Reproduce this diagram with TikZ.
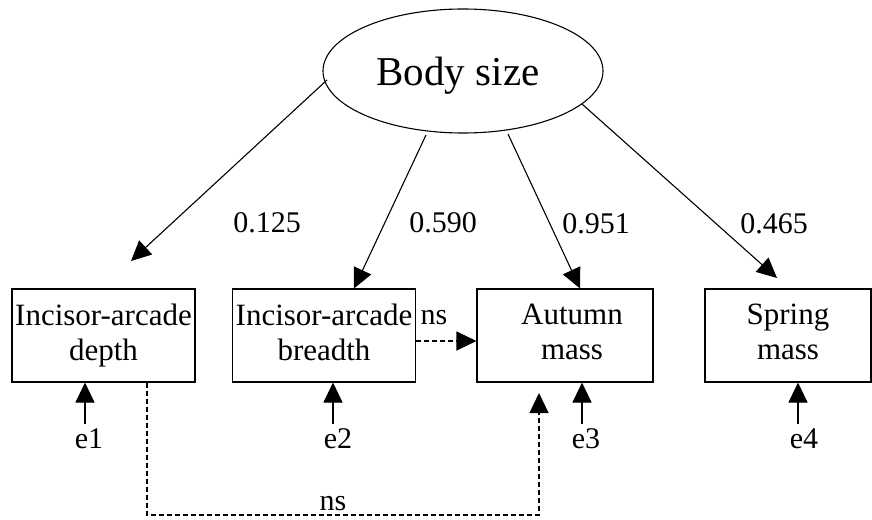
\documentclass[tikz,border=0pt]{standalone}
\usepackage{fontspec}
\setmainfont{Liberation Serif}
\usetikzlibrary{arrows.meta,shapes.geometric}
\begin{document}
\begin{tikzpicture}[x=1pt,y=-1pt,
  box/.style={draw, line width=1.1pt, rectangle, minimum height=93pt, inner sep=0pt, align=center, font=\fontsize{31}{35}\selectfont},
  boxtext/.style={inner sep=0pt, align=center, font=\fontsize{31}{35}\selectfont},
  lab/.style={inner sep=0pt, anchor=base, font=\fontsize{30}{34}\selectfont},
  arr/.style={line width=1.1pt, -{Triangle[length=20pt,width=19pt]}},
  darr/.style={arr, dash pattern=on 5pt off 3pt},
]
\useasboundingbox (0,0) rectangle (872,519);
% latent variable
\node[ellipse, draw, line width=1.1pt, minimum width=280pt, minimum height=124pt, inner sep=0pt] (bs) at (463,71) {};
\node[anchor=base, inner sep=0pt, font=\fontsize{41}{45}\selectfont] (bst) at (458,85) {Body size};
% observed variables
\node[box, minimum width=183pt] (b1) at (103.5,335.5) {Incisor-arcade\\depth};
\node[box, minimum width=183pt] (b2) at (324,335.5) {Incisor-arcade\\breadth\vphantom{p}};
\node[box, minimum width=176pt] (b3) at (565,335.5) {};
\node[boxtext] (b3t) at (572,335.5) {Autumn\\mass\vphantom{p}};
\node[box, minimum width=166pt] (b4) at (788,335.5) {Spring\\mass\vphantom{p}};
% coefficients
\node[lab] (l1) at (267,232) {0.125};
\node[lab] (l2) at (443,232) {0.590};
\node[lab] (l3) at (596,233) {0.951};
\node[lab] (l4) at (774,233) {0.465};
\node[lab] (ns1) at (434,324) {ns};
\node[lab] (ns2) at (333,510) {ns};
% errors
\node[lab, inner sep=4pt] (e1) at (89,448) {e1};
\node[lab, inner sep=4pt] (e2) at (338,448) {e2};
\node[lab, inner sep=4pt] (e3) at (586,448) {e3};
\node[lab, inner sep=4pt] (e4) at (804,448) {e4};
% loadings
\coordinate (s1) at (327,80);  \coordinate (t1) at (131,261);
\coordinate (s2) at (426,135);
\coordinate (s3) at (508,134);
\coordinate (s4) at (582,104); \coordinate (t4) at (777,278);
\draw[arr] (s1) -- (t1);
\draw[arr] (s2) -- ([xshift=30pt]b2.north);
\draw[arr] (s3) -- ([xshift=15pt]b3.north);
\draw[arr] (s4) -- (t4);
% error arrows
\draw[arr] ([xshift=-4pt]e1.north) -- ([xshift=-4pt]e1.north |- b1.south);
\draw[arr] ([xshift=-5pt]e2.north) -- ([xshift=-5pt]e2.north |- b2.south);
\draw[arr] ([xshift=-4pt]e3.north) -- ([xshift=-4pt]e3.north |- b3.south);
\draw[arr] ([xshift=-6pt]e4.north) -- ([xshift=-6pt]e4.north |- b4.south);
% ns paths
\draw[darr] ([yshift=-5.5pt]b2.east) -- ([yshift=-5.5pt]b2.east -| b3.west);
\coordinate (d1) at (147,515);
\coordinate (d2) at (539,515);
\coordinate (d3) at (539,393);
\draw[darr] (d1 |- b1.south) -- (d1) -- (d2) -- (d3);
\end{tikzpicture}
\end{document}
